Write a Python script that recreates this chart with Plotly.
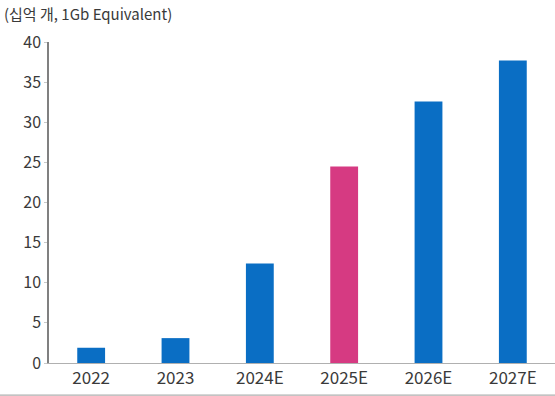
import plotly.graph_objects as go

# DRAM demand, billions of units (1Gb equivalent)
years = ["2022", "2023", "2024E", "2025E", "2026E", "2027E"]
demand = [1.9, 3.1, 12.4, 24.5, 32.6, 37.7]
bar_colors = ["#0A6EC4", "#0A6EC4", "#0A6EC4", "#D63A82", "#0A6EC4", "#0A6EC4"]
y_ticks = [0, 5, 10, 15, 20, 25, 30, 35, 40]

font_family = "Noto Sans CJK KR, Lato, sans-serif"
text_color = "#3a3a3a"

fig = go.Figure(
    go.Bar(
        x=years,
        y=demand,
        marker=dict(color=bar_colors, line=dict(width=0)),
        width=0.33,
    )
)

fig.update_layout(
    width=555,
    height=396,
    margin=dict(l=49, r=0, t=42, b=33),
    paper_bgcolor="white",
    plot_bgcolor="white",
    showlegend=False,
    font=dict(family=font_family, size=14, color=text_color),
    annotations=[
        dict(
            text="(십억 개, 1Gb Equivalent)",
            x=0, y=1, xref="paper", yref="paper",
            xanchor="left", yanchor="top",
            showarrow=False,
            font=dict(family=font_family, size=15, color=text_color),
            xshift=-47, yshift=41,
        )
    ],
    shapes=[
        dict(type="line", xref="paper", yref="paper",
             x0=-1, x1=1, y0=-0.1, y1=-0.1,
             line=dict(color="#9a9a9a", width=1)),
    ],
)

fig.update_xaxes(
    showline=True, linecolor="#b0b0b0", linewidth=1,
    ticks="", showgrid=False,
    tickfont=dict(size=17, color=text_color),
)
fig.update_yaxes(
    range=[0, 40],
    tickvals=y_ticks,
    showline=True, linecolor="#808080", linewidth=1.5,
    ticks="outside", ticklen=3, tickcolor="#c8c8c8",
    showgrid=False, zeroline=False,
    tickfont=dict(size=16, color=text_color),
)

fig.write_html("out.html")
